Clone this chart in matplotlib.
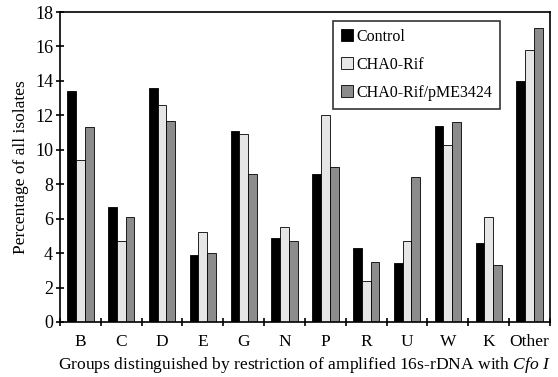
import matplotlib.pyplot as plt
import numpy as np

plt.rcParams['font.family'] = ['Liberation Serif', 'DejaVu Serif']
plt.rcParams['mathtext.fontset'] = 'custom'
plt.rcParams['mathtext.it'] = 'Liberation Serif:italic'
plt.rcParams['mathtext.rm'] = 'Liberation Serif'

groups = ['B', 'C', 'D', 'E', 'G', 'N', 'P', 'R', 'U', 'W', 'K', 'Other']
control = [13.4, 6.7, 13.6, 3.9, 11.1, 4.9, 8.6, 4.3, 3.4, 11.4, 4.6, 14.0]
cha0_rif = [9.4, 4.7, 12.6, 5.2, 10.9, 5.5, 12.0, 2.4, 4.7, 10.3, 6.1, 15.8]
cha0_rif_pme = [11.3, 6.1, 11.7, 4.0, 8.6, 4.7, 9.0, 3.5, 8.4, 11.6, 3.3, 17.1]

series = [
    ('Control', control, 'black'),
    ('CHA0-Rif', cha0_rif, '#e6e6e6'),
    ('CHA0-Rif/pME3424', cha0_rif_pme, '#8c8c8c'),
]

fig = plt.figure(figsize=(5.58, 3.77), dpi=100)
ax = fig.add_axes([0.1075, 0.146, 0.878, 0.822])

x = np.arange(len(groups))
w = 0.215
for i, (name, vals, col) in enumerate(series):
    ax.bar(x + (i - 1) * w, vals, width=w, color=col, edgecolor='black',
           linewidth=0.6, label=name)

ax.set_xlim(-0.5, len(groups) - 0.5)
ax.set_ylim(0, 18)
ax.set_yticks(range(0, 19, 2))

# tick marks between groups, labels centred under each group
ax.set_xticks(np.arange(-0.5, len(groups), 1.0))
ax.set_xticklabels([])
ax.set_xticks(x, minor=True)
ax.set_xticklabels(groups, minor=True)
ax.tick_params(axis='x', which='major', direction='inout', length=6, width=1.2)
ax.tick_params(axis='x', which='minor', length=0, pad=9, labelsize=12.5)
ax.tick_params(axis='y', direction='inout', length=6, width=1.2, labelsize=13, pad=2)

for sp in ax.spines.values():
    sp.set_linewidth(1.2)

ax.set_ylabel('Percentage of all isolates', fontsize=12.5, labelpad=4)
ax.set_xlabel('Groups distinguished by restriction of amplified 16s-rDNA with $\\it{Cfo\\ I}$',
              fontsize=12.6, labelpad=3)

leg = ax.legend(loc='upper left', bbox_to_anchor=(0.557, 0.972), fontsize=11.5,
                frameon=True, fancybox=False, handlelength=0.75, handleheight=0.75,
                handletextpad=0.2, labelspacing=0.75, borderpad=0.5,
                borderaxespad=0)
leg.get_frame().set_edgecolor('black')
leg.get_frame().set_linewidth(1.2)

plt.savefig('out.png', dpi=100)
